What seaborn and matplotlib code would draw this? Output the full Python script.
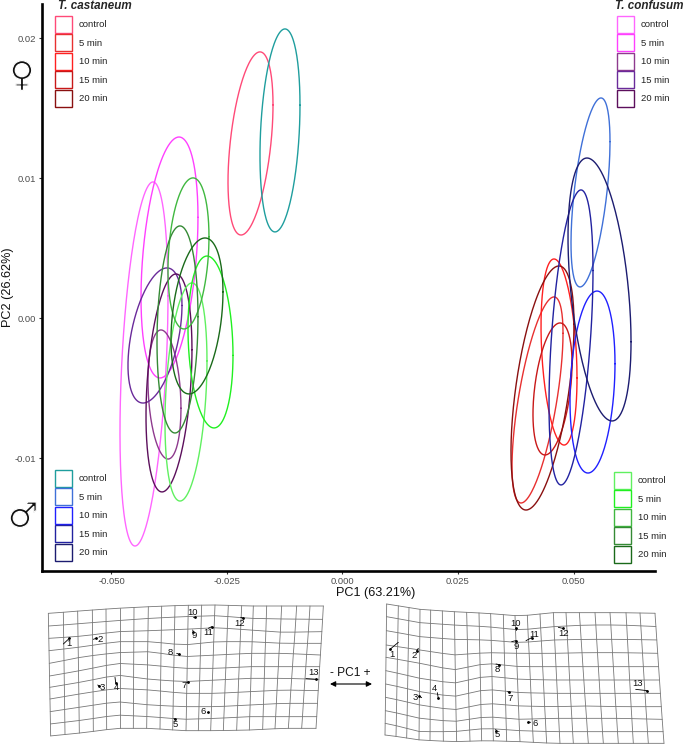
import numpy as np
import pandas as pd
import matplotlib
matplotlib.use("Agg")
import matplotlib.pyplot as plt
import matplotlib.patheffects as pe
from matplotlib.patches import Patch
import seaborn as sns

sns.set_style("white")
plt.rcParams['font.family'] = ['Liberation Sans', 'DejaVu Sans']

tempos = ["control", "5 min", "10 min", "15 min", "20 min"]

# elipses: limites em PC1/PC2 e o PC1 do ponto mais alto
cast_f_cores = ["#ff4a78", "#e83030", "#ff2020", "#c81818", "#8a1010"]
cast_f_esq = [-0.02478, 0.03669, 0.04297, 0.04123, 0.03647]
cast_f_dir = [-0.01504, 0.04773, 0.05076, 0.04968, 0.05011]
cast_f_min = [0.00596, -0.01318, -0.00904, -0.00975, -0.01368]
cast_f_max = [0.01904, 0.00154, 0.00425, -0.00032, 0.00375]
cast_f_topo = [-0.01786, 0.04578, 0.04578, 0.04708, 0.04686]

cast_m_cores = ["#1f9e9e", "#3f70d8", "#2020ff", "#2222a0", "#1c1c70"]
cast_m_esq = [-0.01786, 0.04946, 0.04924, 0.04470, 0.04881]
cast_m_dir = [-0.00920, 0.05790, 0.05898, 0.05422, 0.06245]
cast_m_min = [0.00618, 0.00225, -0.01104, -0.01189, -0.00732]
cast_m_max = [0.02068, 0.01575, 0.00196, 0.00918, 0.01146]
cast_m_topo = [-0.01245, 0.05595, 0.05509, 0.05162, 0.05292]

conf_f_cores = ["#ff66ff", "#ff40ff", "#8e3a8e", "#6a2a9a", "#5c0f5c"]
conf_f_esq = [-0.04816, -0.04361, -0.04210, -0.04643, -0.04253]
conf_f_dir = [-0.03777, -0.03128, -0.03496, -0.03474, -0.03258]
conf_f_min = [-0.01625, -0.00425, -0.01004, -0.00604, -0.01239]
conf_f_max = [0.00975, 0.01296, -0.00082, 0.00361, 0.00318]
conf_f_topo = [-0.04102, -0.03539, -0.03929, -0.03799, -0.03604]

conf_m_cores = ["#60f060", "#20f020", "#40b840", "#358a35", "#1a6a1a"]
conf_m_esq = [-0.03842, -0.03344, -0.03777, -0.04015, -0.03712]
conf_m_dir = [-0.02933, -0.02370, -0.02890, -0.03128, -0.02587]
conf_m_min = [-0.01304, -0.00782, -0.00075, -0.00818, -0.00539]
conf_m_max = [0.00254, 0.00446, 0.01004, 0.00661, 0.00575]
conf_m_topo = [-0.03258, -0.02933, -0.03236, -0.03517, -0.02976]

# grade de deformacao PC1 negativo
g1_ctrl = [30, 130, 230, 330, 430, 530, 630, 730, 840]
g1_linhas = [
    [40, 32, 25, 20, 16, 15, 18, 18, 18],
    [78, 70, 62, 55, 50, 47, 55, 57, 58],
    [115, 108, 95, 92, 88, 83, 90, 97, 95],
    [152, 140, 125, 125, 135, 125, 125, 130, 130],
    [190, 170, 158, 155, 170, 165, 160, 160, 165],
    [228, 210, 190, 195, 205, 205, 200, 200, 200],
    [262, 245, 225, 238, 245, 240, 235, 235, 238],
    [297, 280, 265, 270, 280, 280, 275, 270, 272],
    [335, 320, 305, 315, 320, 320, 315, 310, 310],
    [372, 360, 345, 350, 358, 355, 350, 350, 350],
    [408, 398, 385, 385, 392, 392, 390, 385, 385],
]
g1_topo = [25, 70, 113, 157, 198, 240, 282, 325, 365, 405, 445, 485, 525, 565, 605, 640, 680, 725, 770, 810, 850]
g1_base = [32, 75, 118, 160, 200, 240, 280, 320, 360, 398, 438, 475, 512, 550, 590, 628, 668, 705, 745, 785, 828]
g1_rotulos = ["1", "2", "3", "4", "5", "6", "7", "8", "9", "10", "11", "12", "13"]
g1_rot_x = [88, 182, 188, 228, 405, 488, 431, 392, 463, 458, 505, 600, 820]
g1_rot_y = [132, 118, 264, 264, 373, 335, 258, 157, 108, 37, 98, 72, 218]
g1_vet = [(70, 132, 88, 115), (160, 118, 168, 115), (173, 255, 178, 258), (225, 232, 227, 248),
          (402, 355, 404, 358), (500, 335, 505, 335), (440, 245, 445, 245), (410, 160, 418, 163),
          (458, 90, 460, 95), (460, 52, 465, 52), (505, 85, 515, 80), (602, 52, 608, 54), (798, 236, 828, 238)]

# grade de deformacao PC1 positivo
g2_ctrl = [140, 240, 340, 440, 540, 640, 740, 840, 960]
g2_linhas = [
    [12, 28, 35, 40, 48, 38, 38, 38, 40],
    [50, 68, 75, 80, 90, 80, 75, 75, 80],
    [92, 110, 118, 120, 128, 120, 118, 118, 120],
    [135, 150, 165, 158, 160, 160, 158, 158, 160],
    [172, 190, 210, 190, 200, 200, 200, 200, 200],
    [212, 235, 250, 228, 238, 240, 240, 240, 240],
    [252, 275, 290, 268, 278, 280, 280, 280, 280],
    [292, 315, 330, 310, 318, 320, 318, 320, 320],
    [332, 355, 365, 350, 358, 355, 355, 355, 358],
    [370, 395, 395, 385, 392, 395, 395, 395, 395],
    [405, 420, 425, 422, 425, 430, 430, 430, 430],
]
g2_topo = [140, 175, 207, 240, 272, 307, 343, 380, 417, 452, 490, 525, 562, 600, 640, 678, 718, 765, 810, 858, 900, 945]
g2_base = [135, 168, 200, 237, 270, 310, 350, 390, 425, 460, 500, 540, 580, 620, 660, 700, 745, 790, 835, 880, 925, 972]
g2_rotulos = ["1", "2", "3", "4", "5", "6", "7", "8", "9", "10", "11", "12", "13"]
g2_rot_x = [157, 224, 225, 282, 473, 585, 510, 473, 530, 528, 583, 670, 892]
g2_rot_y = [163, 167, 292, 265, 404, 372, 295, 208, 140, 70, 103, 102, 250]
g2_vet = [(175, 127, 150, 148), (235, 145, 230, 152), (245, 293, 238, 288), (292, 278, 295, 295),
          (467, 388, 469, 392), (572, 367, 565, 366), (503, 275, 508, 277), (468, 192, 478, 194),
          (515, 125, 527, 122), (527, 90, 527, 84), (558, 122, 575, 113), (655, 82, 668, 85), (887, 268, 922, 272)]


def elipse(grupo, esq, dir_, ymin, ymax, topo):
    # elipse a partir da caixa limite e de onde fica o topo
    t = np.linspace(0, 2 * np.pi, 200)
    cx, cy = (esq + dir_) / 2, (ymin + ymax) / 2
    rx, ry = (dir_ - esq) / 2, (ymax - ymin) / 2
    rho = (topo - cx) / rx
    return pd.DataFrame({
        "grupo": grupo,
        "ordem": np.arange(len(t)),
        "PC1": cx + rx * np.cos(t),
        "PC2": cy + ry * (rho * np.cos(t) + np.sqrt(1 - rho ** 2) * np.sin(t)),
    })


series = [
    ("cast_f", cast_f_cores, cast_f_esq, cast_f_dir, cast_f_min, cast_f_max, cast_f_topo),
    ("cast_m", cast_m_cores, cast_m_esq, cast_m_dir, cast_m_min, cast_m_max, cast_m_topo),
    ("conf_f", conf_f_cores, conf_f_esq, conf_f_dir, conf_f_min, conf_f_max, conf_f_topo),
    ("conf_m", conf_m_cores, conf_m_esq, conf_m_dir, conf_m_min, conf_m_max, conf_m_topo),
]

partes = []
paleta = {}
for nome, cores, esq, dir_, ymin, ymax, topo in series:
    for i, tempo in enumerate(tempos):
        g = nome + " " + tempo
        paleta[g] = cores[i]
        partes.append(elipse(g, esq[i], dir_[i], ymin[i], ymax[i], topo[i]))
df = pd.concat(partes, ignore_index=True)

W, H = 685, 746
fig = plt.figure(figsize=(W / 100, H / 100), dpi=100)


def eixo_px(x, y, w, h):
    return fig.add_axes([x / W, 1 - (y + h) / H, w / W, h / H])


ax = eixo_px(42, 4, 613, 567)
sns.lineplot(data=df, x="PC1", y="PC2", hue="grupo", palette=paleta, units="grupo", estimator=None,
             sort=False, legend=False, lw=1.0, solid_capstyle="round", solid_joinstyle="round", ax=ax)
ax.set_xlim(-0.06504, 0.06764)
ax.set_ylim(-0.018036, 0.02246)
ax.set_xticks([-0.05, -0.025, 0, 0.025, 0.05])
ax.set_xticklabels(["-0.050", "-0.025", "0.000", "0.025", "0.050"])
ax.set_yticks([-0.01, 0, 0.01, 0.02])
ax.set_yticklabels(["-0.01", "0.00", "0.01", "0.02"])
ax.tick_params(axis="both", length=2, width=0.8, color="#333333", labelcolor="#4d4d4d", labelsize=6.8, pad=2,
               bottom=True, left=True)
ax.set_xlabel("PC1 (63.21%)", fontsize=9.1, color="#111111")
ax.set_ylabel("PC2 (26.62%)", fontsize=9.1, color="#111111")
ax.xaxis.set_label_coords((376 - 42) / 613, -(593 - 571) / 567)
ax.xaxis.label.set_va("center")
ax.yaxis.set_label_coords((8 - 42) / 613, (571 - 287) / 567)
ax.yaxis.label.set_va("center")
sns.despine(ax=ax)
for lado in ["left", "bottom"]:
    ax.spines[lado].set_linewidth(1.9)
    ax.spines[lado].set_color("black")


def legenda(cores, x, y):
    alcas = [Patch(facecolor="white", edgecolor=c, lw=1.0) for c in cores]
    leg = ax.legend(alcas, tempos, loc="upper left", bbox_to_anchor=(x / W, 1 - y / H), bbox_transform=fig.transFigure,
                    frameon=False, fontsize=6.8, handlelength=1.8, handleheight=2.39, labelspacing=0.16,
                    handletextpad=0.74, borderpad=0, borderaxespad=0, labelcolor="#222222")
    ax.add_artist(leg)
    ax.legend_ = None


legenda(cast_f_cores, 55, 16)
legenda(conf_f_cores, 617, 16)
legenda(cast_m_cores, 55, 470)
legenda(conf_m_cores, 614, 472)

fig.text(58 / W, 1 - 6 / H, "T. castaneum", fontsize=8.4, weight="bold", style="italic", va="center")
fig.text(615 / W, 1 - 6 / H, "T. confusum", fontsize=8.4, weight="bold", style="italic", va="center")
# simbolos de sexo: contorno branco por cima deixa o traco fino
fino = [pe.Normal(), pe.Stroke(linewidth=0.9, foreground="white")]
fig.text(22 / W, 1 - 76 / H, "\u2640", fontsize=25, family="DejaVu Sans", ha="center", va="center",
         color="#111111", path_effects=fino)
fig.text(23 / W, 1 - 517 / H, "\u2642", fontsize=25, family="DejaVu Sans", ha="center", va="center",
         color="#111111", path_effects=fino)


def grade(x0, y0, w, h, ctrl, linhas, topo, base, rotulos, rot_x, rot_y, vetores):
    a = eixo_px(x0, y0, w, h)
    a.set_xlim(0, w * 3)
    a.set_ylim(h * 3, 0)
    a.axis("off")
    n = len(linhas)
    topo, base = np.array(topo, float), np.array(base, float)
    xs = np.array([topo + (base - topo) * i / (n - 1) for i in range(n)])
    ys = np.array([np.interp(xs[i], ctrl, linhas[i]) for i in range(n)])
    for i in range(n):
        a.plot(xs[i], ys[i], color="#777777", lw=0.6)
    for j in range(xs.shape[1]):
        a.plot(xs[:, j], ys[:, j], color="#777777", lw=0.6)
    for r, rx, ry in zip(rotulos, rot_x, rot_y):
        a.text(rx, ry, r, fontsize=6.8, ha="center", va="center", color="#111111")
    for x1, y1, x2, y2 in vetores:
        a.plot([x1, x2], [y1, y2], color="black", lw=0.6)
        a.plot([x2], [y2], "o", color="black", ms=1.0)


grade(40, 600, 300, 146, g1_ctrl, g1_linhas, g1_topo, g1_base, g1_rotulos, g1_rot_x, g1_rot_y, g1_vet)
grade(340, 600, 340, 146, g2_ctrl, g2_linhas, g2_topo, g2_base, g2_rotulos, g2_rot_x, g2_rot_y, g2_vet)

fig.text(350 / W, 1 - 673 / H, "- PC1 +", fontsize=8.6, ha="center", va="center", color="#111111")
seta = fig.add_axes([0, 0, 1, 1], facecolor="none")
seta.set_xlim(0, W)
seta.set_ylim(H, 0)
seta.axis("off")
seta.annotate("", xy=(330, 684), xytext=(372, 684),
              arrowprops=dict(arrowstyle="<|-|>", color="black", lw=0.8, mutation_scale=8, shrinkA=0, shrinkB=0))

fig.savefig("out.png", dpi=100, facecolor="white")
